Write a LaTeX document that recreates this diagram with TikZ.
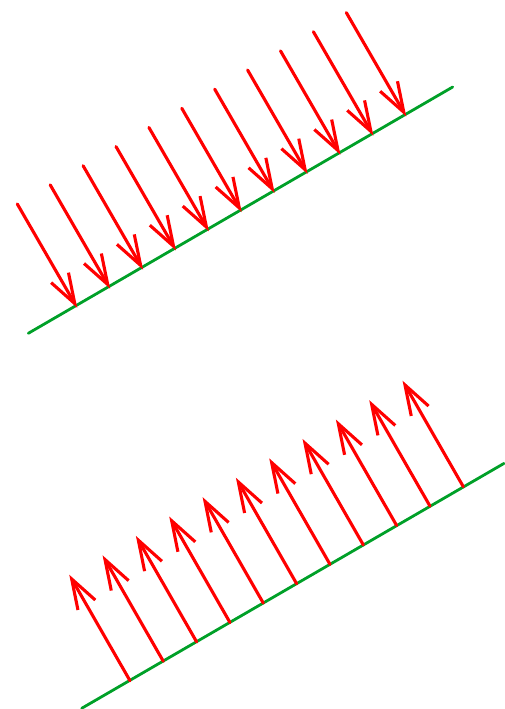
\documentclass[tikz,border=0pt]{standalone}
\usetikzlibrary{arrows.meta}
\begin{document}
\begin{tikzpicture}[x=1pt,y=-1pt,
  surface/.style={draw={rgb,255:red,0;green,160;blue,40},line width=2.8pt,line cap=round},
  ray/.style={draw=red,line width=3.1pt,line cap=round,line join=round,shorten >=-2.5pt,
    -{Straight Barb[length=30pt,width=20pt,line width=3.1pt]}}]
\useasboundingbox (0,0) rectangle (504,709);
% top surface
\coordinate (ta) at (28.3,333.3);
\coordinate (tb) at (452.7,87);
\draw[surface] (ta) -- (tb);
\foreach \i in {0,...,10}{
  \coordinate (tt\i) at ({76+32.9*\i},{305.7-19.14*\i});
  \coordinate (ts\i) at ({76+32.9*\i-58.7},{305.7-19.14*\i-101.7});
  \draw[ray] (ts\i) -- (tt\i);
}
% bottom surface
\coordinate (ba) at (81.7,708.3);
\coordinate (bb) at (504,463.4);
\draw[surface] (ba) -- (bb);
\foreach \i in {0,...,10}{
  \coordinate (bs\i) at ({130+33.33*\i},{680.7-19.4*\i});
  \coordinate (bt\i) at ({130+33.33*\i-59.5},{680.7-19.4*\i-103.8});
  \draw[ray] (bs\i) -- (bt\i);
}
\end{tikzpicture}
\end{document}
